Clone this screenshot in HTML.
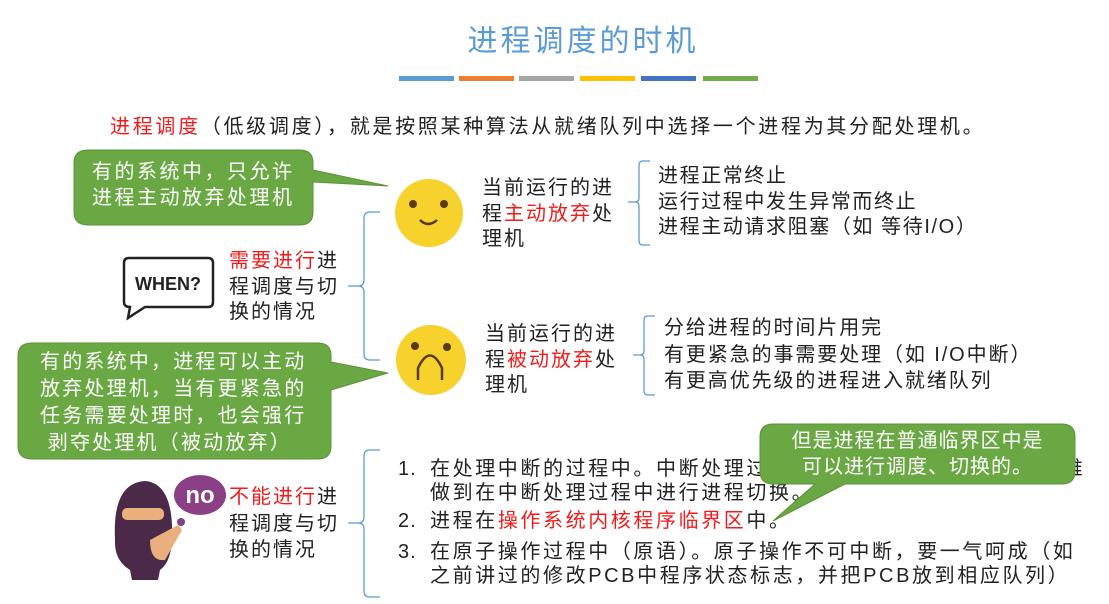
<!DOCTYPE html>
<html><head><meta charset="utf-8"><style>
body{margin:0;width:1109px;height:604px;background:#fff;position:relative;overflow:hidden;font-family:"Liberation Sans","Noto Sans CJK SC",sans-serif;}
.t{position:absolute;font-size:20px;letter-spacing:2px;line-height:25.5px;color:#222;white-space:nowrap;}
.r{color:#f21b1b}
.w{color:#fff}
.n{position:absolute;left:0}
</style></head><body>
<svg width="1109" height="604" style="position:absolute;left:0;top:0">
<g>
<rect x="399" y="76" width="55" height="5" fill="#5b9bd5"/>
<rect x="459" y="76" width="55" height="5" fill="#ed7d31"/>
<rect x="519" y="76" width="55" height="5" fill="#a5a5a5"/>
<rect x="580" y="76" width="55" height="5" fill="#ffc000"/>
<rect x="641" y="76" width="55" height="5" fill="#4472c4"/>
<rect x="703" y="76" width="55" height="5" fill="#70ad47"/>
</g>
<g fill="#6aa843" stroke="#5a9238" stroke-width="1">
<path d="M88,150 H300 Q313,150 313,163 V170 L388,186 L313,182 V212 Q313,225 300,225 H88 Q74,225 74,212 V163 Q74,150 88,150Z"/>
<path d="M32,343 H318 Q331,343 331,356 V362 L388,373 L331,390 V446 Q331,459 318,459 H32 Q18,459 18,446 V356 Q18,343 32,343Z"/>
</g>
<g fill="none" stroke="#5b9bd5" stroke-width="1.3">
<path d="M380,212 H370 Q364,212 364,218 V280 Q364,286 358,286 H348 M358,286 Q364,286 364,292 V354 Q364,360 370,360 H380"/>
<path d="M380,450 H370 Q364,450 364,456 V517 Q364,523 358,523 H348 M358,523 Q364,523 364,529 V591 Q364,597 370,597 H380"/>
<path d="M650,161 H643 Q639,161 639,165 V198 Q639,202 635,202 H628 M635,202 Q639,202 639,206 V241 Q639,245 643,245 H650"/>
<path d="M655,316 H648 Q644,316 644,320 V351 Q644,355 640,355 H633 M640,355 Q644,355 644,359 V391 Q644,395 648,395 H655"/>
</g>
<circle cx="429" cy="213" r="34" fill="#f7d22c"/>
<circle cx="413" cy="204" r="4" fill="#5b3a1a"/><circle cx="444" cy="204" r="4" fill="#5b3a1a"/>
<path d="M420,220 Q428,228 437,220" stroke="#5b3a1a" stroke-width="2.5" fill="none"/>
<circle cx="431" cy="360" r="35" fill="#f7d22c"/>
<circle cx="415" cy="346" r="4" fill="#5b3a1a"/><circle cx="447" cy="347" r="4" fill="#5b3a1a"/>
<path d="M418,380 V368 Q430,343 442,368 V380" stroke="#5b3a1a" stroke-width="2.5" fill="none"/>
<path d="M129,258 H208 Q213,258 213,263 V302 Q213,307 208,307 H145 L128,318 L130,307 Q124,307 124,302 V263 Q124,258 129,258Z" fill="#fff" stroke="#222" stroke-width="2.5"/>
<text x="168" y="290" text-anchor="middle" font-family="Liberation Sans" font-weight="bold" font-size="18" fill="#222">WHEN?</text>
<ellipse cx="200" cy="495" rx="26" ry="20" fill="#8b3f86"/>
<text x="200" y="503" text-anchor="middle" font-family="Liberation Sans" font-weight="bold" font-size="24" fill="#fff">no</text>
<circle cx="181" cy="522" r="4" fill="#8b3f86"/>
<circle cx="175" cy="533" r="2.5" fill="#8b3f86"/>
<path d="M115,540 Q112,483 145,481 Q170,483 172,525 Q174,560 160,570 L158,580 H132 L130,570 Q114,560 115,540Z" fill="#4a2a48"/>
<rect x="122" y="508" width="42" height="12" rx="5" fill="#e9b07d"/>
<path d="M150,540 L178,525 L182,530 L165,560 Q150,562 150,540Z" fill="#e9b07d"/>
</svg>
<div class="t" style="left:0;width:1166px;text-align:center;top:23px;font-size:30px;letter-spacing:3px;line-height:38px;color:#5b9bd5;">进程调度的时机</div>
<div class="t" style="left:110px;top:115px;letter-spacing:2.7px"><span class="r">进程调度</span>（低级调度），就是按照某种算法从就绪队列中选择一个进程为其分配处理机。</div>
<div class="t w" style="left:92px;top:160px;letter-spacing:2.5px">有的系统中，只允许<br>进程主动放弃处理机</div>
<div class="t" style="left:482px;top:176px;">当前运行的进<br>程<span class="r">主动放弃</span>处<br>理机</div>
<div class="t" style="left:658px;top:164px;letter-spacing:1.6px">进程正常终止<br>运行过程中发生异常而终止<br>进程主动请求阻塞（如 等待I/O）</div>
<div class="t" style="left:229px;top:249px;"><span class="r">需要进行</span>进<br>程调度与切<br>换的情况</div>
<div class="t" style="left:485px;top:322px;">当前运行的进<br>程<span class="r">被动放弃</span>处<br>理机</div>
<div class="t" style="left:664px;top:315px;line-height:26.5px;letter-spacing:1.9px">分给进程的时间片用完<br>有更紧急的事需要处理（如 I/O中断）<br>有更高优先级的进程进入就绪队列</div>
<div class="t w" style="left:40px;top:349px;line-height:27px;letter-spacing:2.2px">有的系统中，进程可以主动<br>放弃处理机，当有更紧急的<br>任务需要处理时，也会强行<br>&nbsp;剥夺处理机（被动放弃）</div>
<div class="t" style="left:229px;top:484px;line-height:26.5px"><span class="r">不能进行</span>进<br>程调度与切<br>换的情况</div>
<div class="t" style="left:430px;top:457px;line-height:24px;letter-spacing:2.6px"><span class="n" style="left:-32px;letter-spacing:1px">1.</span>在处理中断的过程中。中断处理过程复杂，与硬件密切相关，很难<br>做到在中断处理过程中进行进程切换。</div>
<div class="t" style="left:430px;top:509px;letter-spacing:2.6px"><span class="n" style="left:-32px;letter-spacing:1px">2.</span>进程在<span class="r">操作系统内核程序临界区</span>中。</div>
<div class="t" style="left:430px;top:540px;line-height:24px;letter-spacing:2.6px"><span class="n" style="left:-32px;letter-spacing:1px">3.</span>在原子操作过程中（原语）。原子操作不可中断，要一气呵成（如<br>之前讲过的修改PCB中程序状态标志，并把PCB放到相应队列）</div>
<svg width="1109" height="604" style="position:absolute;left:0;top:0">
<path d="M773,424 H1062 Q1075,424 1075,437 V471 Q1075,484 1062,484 H845 L773,521 L815,484 H773 Q760,484 760,471 V437 Q760,424 773,424Z" fill="#6aa843" stroke="#5a9238"/>
</svg>
<div class="t w" style="left:760px;width:315px;text-align:center;top:429px;letter-spacing:1px">但是进程在普通临界区中是<br>可以进行调度、切换的。</div>
</body></html>
